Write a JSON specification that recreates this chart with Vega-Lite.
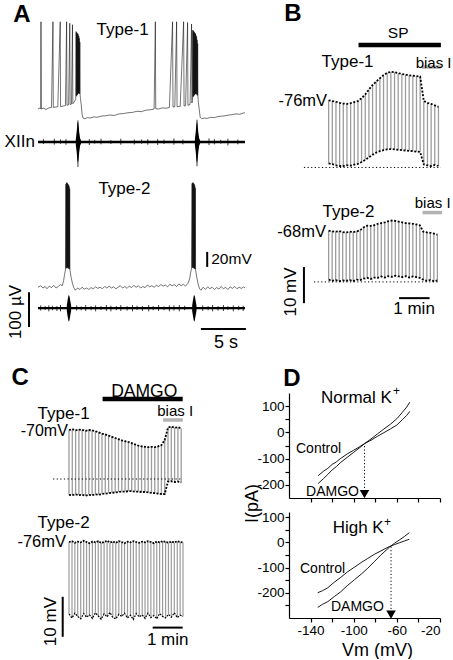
{
"$schema":"https://vega.github.io/schema/vega-lite/v6.json",
"padding":{"left":4,"top":2,"right":0,"bottom":0},
"config":{"view":{"stroke":null},"font":"Liberation Sans","mark":{"color":"black"},
"axis":{"domainColor":"black","tickColor":"black","labelColor":"black","titleColor":"black","labelFontSize":13.5,"titleFontSize":18,"titleFontWeight":"normal","grid":false,"domainWidth":1.2,"tickWidth":1.2,"labelPadding":1}},
"datasets":{
"t1":[{"t":0,"v":-61},{"t":0.15,"v":-60},{"t":0.3,"v":-60.5},{"t":0.33,"v":55},{"t":0.37,"v":-61},{"t":0.6,"v":-60},{"t":0.9,"v":-61.5},{"t":1.2,"v":-59.5},{"t":1.5,"v":-59},{"t":1.66,"v":55},{"t":1.7,"v":-59},{"t":1.9,"v":-58.5},{"t":2.2,"v":-58},{"t":2.47,"v":55},{"t":2.51,"v":-58},{"t":2.8,"v":-57},{"t":3.05,"v":-56.5},{"t":3.18,"v":55},{"t":3.22,"v":-56},{"t":3.4,"v":-55.5},{"t":3.53,"v":53},{"t":3.57,"v":-55},{"t":3.72,"v":-54.5},{"t":3.83,"v":51},{"t":3.87,"v":-54},{"t":4.0,"v":-52},{"t":4.2,"v":-48},{"t":4.23,"v":42},{"t":4.26,"v":-44},{"t":4.29,"v":41},{"t":4.32,"v":-43},{"t":4.35,"v":40},{"t":4.38,"v":-42},{"t":4.41,"v":39},{"t":4.44,"v":-41},{"t":4.47,"v":38},{"t":4.5,"v":-40},{"t":4.53,"v":36},{"t":4.56,"v":-40},{"t":4.59,"v":33},{"t":4.62,"v":-41},{"t":4.65,"v":28},{"t":4.68,"v":-42},{"t":4.72,"v":-47},{"t":4.8,"v":-55},{"t":4.9,"v":-68},{"t":5.0,"v":-73},{"t":5.2,"v":-74},{"t":5.5,"v":-72.5},{"t":5.8,"v":-73},{"t":6.2,"v":-71.5},{"t":6.6,"v":-72},{"t":7.0,"v":-70.5},{"t":7.5,"v":-70},{"t":8.0,"v":-69},{"t":8.5,"v":-69.5},{"t":9.0,"v":-67.5},{"t":9.5,"v":-67},{"t":10.0,"v":-66},{"t":10.5,"v":-65.5},{"t":11.0,"v":-64},{"t":11.5,"v":-64.5},{"t":12.0,"v":-62.5},{"t":12.5,"v":-62},{"t":12.9,"v":-61},{"t":13.04,"v":55},{"t":13.08,"v":-60.5},{"t":13.4,"v":-61},{"t":13.8,"v":-59.5},{"t":14.2,"v":-60},{"t":14.6,"v":-59},{"t":14.95,"v":55},{"t":15.0,"v":-58.5},{"t":15.2,"v":-58},{"t":15.4,"v":55},{"t":15.45,"v":-58},{"t":15.8,"v":-57.5},{"t":16.18,"v":55},{"t":16.23,"v":-57},{"t":16.4,"v":-56.5},{"t":16.62,"v":54},{"t":16.66,"v":-56},{"t":16.9,"v":-55},{"t":17.06,"v":52},{"t":17.1,"v":-53},{"t":17.15,"v":-50},{"t":17.2,"v":44},{"t":17.23,"v":-45},{"t":17.26,"v":43},{"t":17.29,"v":-44},{"t":17.32,"v":42},{"t":17.35,"v":-43},{"t":17.38,"v":41},{"t":17.41,"v":-42},{"t":17.44,"v":40},{"t":17.47,"v":-41},{"t":17.5,"v":39},{"t":17.53,"v":-41},{"t":17.56,"v":37},{"t":17.59,"v":-41},{"t":17.62,"v":35},{"t":17.65,"v":-42},{"t":17.68,"v":31},{"t":17.71,"v":-43},{"t":17.74,"v":26},{"t":17.77,"v":-45},{"t":17.82,"v":-52},{"t":17.92,"v":-62},{"t":18.02,"v":-72},{"t":18.2,"v":-74},{"t":18.5,"v":-73},{"t":18.8,"v":-73.5},{"t":19.2,"v":-72},{"t":19.6,"v":-72.5},{"t":20.0,"v":-71},{"t":20.4,"v":-70.5},{"t":20.8,"v":-70},{"t":21.2,"v":-69},{"t":21.6,"v":-68.5},{"t":22.0,"v":-67.5},{"t":22.4,"v":-68},{"t":22.8,"v":-66.5},{"t":23.0,"v":-66}],
"t2":[{"t":0,"v":-59},{"t":0.3,"v":-57},{"t":0.55,"v":-60},{"t":0.8,"v":-58},{"t":1.0,"v":-61},{"t":1.25,"v":-57.5},{"t":1.5,"v":-59.5},{"t":1.75,"v":-56.5},{"t":2.0,"v":-60},{"t":2.25,"v":-58},{"t":2.5,"v":-55.5},{"t":2.7,"v":-57},{"t":2.85,"v":-50},{"t":2.95,"v":-42},{"t":3.05,"v":-36},{"t":3.1,"v":78},{"t":3.13,"v":-34},{"t":3.16,"v":80},{"t":3.19,"v":-33},{"t":3.22,"v":80},{"t":3.25,"v":-33},{"t":3.28,"v":79},{"t":3.31,"v":-33},{"t":3.34,"v":78},{"t":3.37,"v":-34},{"t":3.4,"v":77},{"t":3.43,"v":-34},{"t":3.46,"v":75},{"t":3.49,"v":-35},{"t":3.52,"v":72},{"t":3.55,"v":-36},{"t":3.6,"v":-40},{"t":3.7,"v":-47},{"t":3.85,"v":-55},{"t":4.0,"v":-60},{"t":4.15,"v":-63},{"t":4.4,"v":-60},{"t":4.65,"v":-62},{"t":4.9,"v":-59},{"t":5.15,"v":-61.5},{"t":5.4,"v":-60},{"t":5.65,"v":-62},{"t":5.9,"v":-59.5},{"t":6.15,"v":-61},{"t":6.4,"v":-58.5},{"t":6.65,"v":-60.5},{"t":6.9,"v":-59},{"t":7.15,"v":-61},{"t":7.4,"v":-58},{"t":7.65,"v":-60},{"t":7.9,"v":-57.5},{"t":8.15,"v":-60},{"t":8.4,"v":-58.5},{"t":8.65,"v":-61},{"t":8.9,"v":-59},{"t":9.15,"v":-57},{"t":9.4,"v":-60},{"t":9.65,"v":-58},{"t":9.9,"v":-60.5},{"t":10.15,"v":-57.5},{"t":10.4,"v":-59.5},{"t":10.65,"v":-56.5},{"t":10.9,"v":-59},{"t":11.15,"v":-57},{"t":11.4,"v":-60},{"t":11.65,"v":-58},{"t":11.9,"v":-59.5},{"t":12.15,"v":-56},{"t":12.4,"v":-58.5},{"t":12.65,"v":-57},{"t":12.9,"v":-59},{"t":13.15,"v":-56.5},{"t":13.4,"v":-58},{"t":13.65,"v":-55.5},{"t":13.9,"v":-57.5},{"t":14.15,"v":-56},{"t":14.4,"v":-58.5},{"t":14.65,"v":-55},{"t":14.9,"v":-57},{"t":15.15,"v":-55.5},{"t":15.4,"v":-58},{"t":15.65,"v":-54.5},{"t":15.9,"v":-57},{"t":16.15,"v":-55},{"t":16.4,"v":-57.5},{"t":16.65,"v":-54},{"t":16.85,"v":-48},{"t":16.95,"v":-40},{"t":17.05,"v":-35},{"t":17.12,"v":79},{"t":17.15,"v":-33},{"t":17.18,"v":80},{"t":17.21,"v":-33},{"t":17.24,"v":80},{"t":17.27,"v":-33},{"t":17.3,"v":79},{"t":17.33,"v":-34},{"t":17.36,"v":78},{"t":17.39,"v":-34},{"t":17.42,"v":76},{"t":17.45,"v":-35},{"t":17.48,"v":73},{"t":17.51,"v":-36},{"t":17.56,"v":-40},{"t":17.66,"v":-47},{"t":17.8,"v":-55},{"t":17.95,"v":-61},{"t":18.1,"v":-63},{"t":18.35,"v":-59},{"t":18.6,"v":-62},{"t":18.85,"v":-58.5},{"t":19.1,"v":-61},{"t":19.35,"v":-59},{"t":19.6,"v":-62},{"t":19.85,"v":-59.5},{"t":20.1,"v":-61.5},{"t":20.35,"v":-58},{"t":20.6,"v":-61},{"t":20.85,"v":-59},{"t":21.1,"v":-62},{"t":21.35,"v":-58.5},{"t":21.6,"v":-60.5},{"t":21.85,"v":-58},{"t":22.1,"v":-61},{"t":22.35,"v":-59},{"t":22.6,"v":-60.5},{"t":22.85,"v":-58.5},{"t":23.0,"v":-60}],
"x1n":[{"t":0.6,"lo":-6,"hi":8},{"t":1.81,"lo":-8,"hi":9},{"t":2.5,"lo":-5,"hi":7},{"t":3.11,"lo":-8,"hi":8},{"t":4.44,"lo":-72,"hi":62},{"t":5.7,"lo":-9,"hi":8},{"t":6.3,"lo":-5,"hi":6},{"t":7.0,"lo":-7,"hi":9},{"t":8.1,"lo":-6,"hi":5},{"t":9.2,"lo":-8,"hi":9},{"t":10.7,"lo":-7,"hi":7},{"t":11.5,"lo":-5,"hi":7},{"t":12.2,"lo":-8,"hi":8},{"t":13.3,"lo":-9,"hi":8},{"t":14.0,"lo":-6,"hi":7},{"t":15.1,"lo":-8,"hi":10},{"t":16.1,"lo":-7,"hi":7},{"t":17.67,"lo":-70,"hi":64},{"t":19.0,"lo":-9,"hi":10},{"t":19.6,"lo":-7,"hi":8},{"t":20.3,"lo":-5,"hi":6},{"t":21.1,"lo":-10,"hi":9},{"t":22.2,"lo":-7,"hi":7}],
"x1b":[{"g":1,"t":4.2,"lo":-8,"hi":8},{"g":1,"t":4.3,"lo":-30,"hi":30},{"g":1,"t":4.38,"lo":-55,"hi":54},{"g":1,"t":4.44,"lo":-60,"hi":58},{"g":1,"t":4.5,"lo":-52,"hi":50},{"g":1,"t":4.58,"lo":-30,"hi":28},{"g":1,"t":4.68,"lo":-10,"hi":10},{"g":1,"t":4.78,"lo":-5,"hi":5},{"g":2,"t":17.43,"lo":-8,"hi":8},{"g":2,"t":17.53,"lo":-30,"hi":30},{"g":2,"t":17.61,"lo":-55,"hi":54},{"g":2,"t":17.67,"lo":-60,"hi":58},{"g":2,"t":17.73,"lo":-52,"hi":50},{"g":2,"t":17.81,"lo":-30,"hi":28},{"g":2,"t":17.91,"lo":-10,"hi":10},{"g":2,"t":18.01,"lo":-5,"hi":5}],
"x2n":[{"t":0.3,"lo":-7,"hi":8},{"t":0.8,"lo":-5,"hi":6},{"t":1.2,"lo":-9,"hi":8},{"t":1.6,"lo":-6,"hi":7},{"t":2.1,"lo":-8,"hi":6},{"t":2.5,"lo":-9,"hi":9},{"t":4.3,"lo":-7,"hi":8},{"t":4.8,"lo":-6,"hi":5},{"t":5.3,"lo":-8,"hi":9},{"t":5.9,"lo":-6,"hi":6},{"t":6.4,"lo":-9,"hi":8},{"t":7.0,"lo":-5,"hi":6},{"t":7.6,"lo":-8,"hi":9},{"t":8.1,"lo":-9,"hi":7},{"t":8.7,"lo":-6,"hi":6},{"t":9.2,"lo":-8,"hi":9},{"t":9.9,"lo":-7,"hi":6},{"t":10.5,"lo":-9,"hi":9},{"t":11.0,"lo":-5,"hi":7},{"t":11.6,"lo":-8,"hi":6},{"t":12.3,"lo":-9,"hi":9},{"t":12.8,"lo":-6,"hi":6},{"t":13.4,"lo":-8,"hi":9},{"t":14.0,"lo":-6,"hi":5},{"t":14.6,"lo":-9,"hi":8},{"t":15.1,"lo":-7,"hi":8},{"t":15.7,"lo":-9,"hi":9},{"t":16.3,"lo":-6,"hi":7},{"t":18.3,"lo":-8,"hi":8},{"t":18.9,"lo":-6,"hi":6},{"t":19.4,"lo":-9,"hi":9},{"t":20.0,"lo":-7,"hi":6},{"t":20.6,"lo":-8,"hi":9},{"t":21.1,"lo":-5,"hi":6},{"t":21.7,"lo":-9,"hi":8},{"t":22.3,"lo":-6,"hi":7},{"t":22.8,"lo":-8,"hi":7}],
"x2b":[{"g":1,"t":3.2,"lo":-8,"hi":8},{"g":1,"t":3.3,"lo":-25,"hi":25},{"g":1,"t":3.38,"lo":-36,"hi":36},{"g":1,"t":3.44,"lo":-39,"hi":38},{"g":1,"t":3.5,"lo":-34,"hi":34},{"g":1,"t":3.58,"lo":-22,"hi":22},{"g":1,"t":3.68,"lo":-8,"hi":8},{"g":2,"t":17.13,"lo":-8,"hi":8},{"g":2,"t":17.23,"lo":-25,"hi":25},{"g":2,"t":17.31,"lo":-36,"hi":36},{"g":2,"t":17.37,"lo":-39,"hi":38},{"g":2,"t":17.43,"lo":-34,"hi":34},{"g":2,"t":17.51,"lo":-22,"hi":22},{"g":2,"t":17.61,"lo":-8,"hi":8}],
"b1":[{"t":0.02,"top":-75.8,"bot":-93.3},{"t":0.14,"top":-76.0,"bot":-93.5},{"t":0.26,"top":-76.2,"bot":-93.8},{"t":0.38,"top":-76.5,"bot":-94.0},{"t":0.5,"top":-76.7,"bot":-94.0},{"t":0.62,"top":-76.8,"bot":-93.8},{"t":0.74,"top":-76.6,"bot":-93.9},{"t":0.86,"top":-76.3,"bot":-93.6},{"t":0.98,"top":-76.0,"bot":-93.4},{"t":1.1,"top":-75.2,"bot":-92.9},{"t":1.22,"top":-74.2,"bot":-92.3},{"t":1.34,"top":-72.8,"bot":-91.6},{"t":1.46,"top":-71.6,"bot":-90.9},{"t":1.58,"top":-70.6,"bot":-90.3},{"t":1.7,"top":-69.7,"bot":-89.9},{"t":1.82,"top":-68.8,"bot":-89.6},{"t":1.94,"top":-68.2,"bot":-89.4},{"t":2.06,"top":-67.9,"bot":-89.3},{"t":2.18,"top":-68.0,"bot":-89.4},{"t":2.3,"top":-68.3,"bot":-89.5},{"t":2.42,"top":-68.5,"bot":-89.6},{"t":2.54,"top":-68.7,"bot":-89.7},{"t":2.66,"top":-68.9,"bot":-89.8},{"t":2.78,"top":-69.0,"bot":-89.9},{"t":2.9,"top":-69.1,"bot":-90.0},{"t":3.02,"top":-69.2,"bot":-90.1},{"t":3.14,"top":-76.0,"bot":-93.6},{"t":3.26,"top":-76.5,"bot":-93.8},{"t":3.38,"top":-76.8,"bot":-94.0},{"t":3.5,"top":-77.2,"bot":-93.7},{"t":3.62,"top":-77.6,"bot":-94.0}],
"b2":[{"t":0.02,"top":-67.9,"bot":-81.5},{"t":0.135,"top":-68.1,"bot":-81.8},{"t":0.25,"top":-68.2,"bot":-81.6},{"t":0.365,"top":-68.0,"bot":-81.9},{"t":0.48,"top":-68.3,"bot":-81.7},{"t":0.595,"top":-68.4,"bot":-81.8},{"t":0.71,"top":-68.2,"bot":-81.6},{"t":0.825,"top":-68.3,"bot":-81.9},{"t":0.94,"top":-68.1,"bot":-81.5},{"t":1.055,"top":-67.8,"bot":-81.6},{"t":1.17,"top":-67.0,"bot":-81.2},{"t":1.285,"top":-66.5,"bot":-81.0},{"t":1.4,"top":-66.6,"bot":-81.3},{"t":1.515,"top":-66.4,"bot":-80.9},{"t":1.63,"top":-66.0,"bot":-81.0},{"t":1.745,"top":-65.8,"bot":-80.6},{"t":1.86,"top":-65.6,"bot":-80.9},{"t":1.975,"top":-65.3,"bot":-80.5},{"t":2.09,"top":-65.1,"bot":-80.7},{"t":2.205,"top":-65.2,"bot":-80.4},{"t":2.32,"top":-65.4,"bot":-80.6},{"t":2.435,"top":-65.6,"bot":-80.8},{"t":2.55,"top":-65.8,"bot":-80.5},{"t":2.665,"top":-65.9,"bot":-80.9},{"t":2.78,"top":-66.0,"bot":-80.6},{"t":2.895,"top":-66.2,"bot":-80.8},{"t":3.01,"top":-66.4,"bot":-81.0},{"t":3.125,"top":-68.2,"bot":-81.5},{"t":3.24,"top":-68.4,"bot":-81.8},{"t":3.355,"top":-68.5,"bot":-81.6},{"t":3.47,"top":-68.7,"bot":-81.9},{"t":3.585,"top":-69.0,"bot":-81.7}],
"c1":[{"t":0.0,"top":-70.0,"bot":-86.2},{"t":0.11,"top":-69.8,"bot":-86.3},{"t":0.22,"top":-70.1,"bot":-86.1},{"t":0.33,"top":-69.9,"bot":-86.3},{"t":0.44,"top":-70.0,"bot":-86.2},{"t":0.55,"top":-70.2,"bot":-86.4},{"t":0.66,"top":-70.0,"bot":-86.2},{"t":0.77,"top":-70.1,"bot":-86.3},{"t":0.88,"top":-70.3,"bot":-86.1},{"t":0.99,"top":-70.6,"bot":-86.2},{"t":1.1,"top":-70.9,"bot":-86.0},{"t":1.21,"top":-71.1,"bot":-85.9},{"t":1.32,"top":-71.4,"bot":-85.8},{"t":1.43,"top":-71.7,"bot":-85.7},{"t":1.54,"top":-72.0,"bot":-85.6},{"t":1.65,"top":-72.3,"bot":-85.5},{"t":1.76,"top":-72.6,"bot":-85.4},{"t":1.87,"top":-72.8,"bot":-85.4},{"t":1.98,"top":-73.0,"bot":-85.3},{"t":2.09,"top":-73.3,"bot":-85.3},{"t":2.2,"top":-73.6,"bot":-85.4},{"t":2.31,"top":-73.9,"bot":-85.4},{"t":2.42,"top":-74.1,"bot":-85.5},{"t":2.53,"top":-74.2,"bot":-85.5},{"t":2.64,"top":-74.3,"bot":-85.6},{"t":2.75,"top":-74.2,"bot":-85.7},{"t":2.86,"top":-74.3,"bot":-85.8},{"t":2.97,"top":-74.1,"bot":-85.9},{"t":3.08,"top":-73.8,"bot":-86.0},{"t":3.19,"top":-72.5,"bot":-86.0},{"t":3.3,"top":-69.4,"bot":-82.9},{"t":3.41,"top":-69.2,"bot":-82.8},{"t":3.52,"top":-69.4,"bot":-83.0},{"t":3.63,"top":-69.3,"bot":-82.9},{"t":3.74,"top":-69.6,"bot":-83.1}],
"c2":[{"t":0.0,"top":-76.0,"bot":-94.0},{"t":0.1,"top":-75.8,"bot":-95.0},{"t":0.195,"top":-76.2,"bot":-93.8},{"t":0.29,"top":-75.9,"bot":-94.6},{"t":0.39,"top":-76.1,"bot":-95.2},{"t":0.49,"top":-75.7,"bot":-93.9},{"t":0.585,"top":-76.0,"bot":-94.8},{"t":0.68,"top":-76.3,"bot":-94.2},{"t":0.78,"top":-75.9,"bot":-95.1},{"t":0.88,"top":-76.1,"bot":-93.7},{"t":0.975,"top":-75.8,"bot":-94.5},{"t":1.07,"top":-76.2,"bot":-95.3},{"t":1.17,"top":-76.0,"bot":-94.0},{"t":1.27,"top":-75.7,"bot":-94.7},{"t":1.365,"top":-76.1,"bot":-93.6},{"t":1.46,"top":-75.9,"bot":-94.9},{"t":1.56,"top":-76.2,"bot":-95.2},{"t":1.66,"top":-75.8,"bot":-94.1},{"t":1.755,"top":-76.0,"bot":-94.6},{"t":1.85,"top":-76.3,"bot":-93.8},{"t":1.95,"top":-75.9,"bot":-95.0},{"t":2.05,"top":-76.1,"bot":-94.3},{"t":2.145,"top":-75.8,"bot":-95.4},{"t":2.24,"top":-76.0,"bot":-93.9},{"t":2.34,"top":-76.2,"bot":-94.7},{"t":2.44,"top":-75.9,"bot":-94.2},{"t":2.535,"top":-76.1,"bot":-95.1},{"t":2.63,"top":-75.8,"bot":-93.8},{"t":2.73,"top":-76.0,"bot":-94.9},{"t":2.83,"top":-76.3,"bot":-94.4},{"t":2.925,"top":-75.9,"bot":-95.2},{"t":3.02,"top":-76.1,"bot":-93.9},{"t":3.12,"top":-75.8,"bot":-94.6},{"t":3.22,"top":-76.0,"bot":-95.0},{"t":3.315,"top":-76.2,"bot":-94.1},{"t":3.41,"top":-75.9,"bot":-94.8},{"t":3.51,"top":-76.1,"bot":-93.7},{"t":3.61,"top":-75.8,"bot":-94.9},{"t":3.705,"top":-76.0,"bot":-94.3},{"t":3.8,"top":-76.1,"bot":-94.6}],
"d1":[{"c":"Control","mv":-133,"pa":-165},{"c":"Control","mv":-128,"pa":-148},{"c":"Control","mv":-124,"pa":-137},{"c":"Control","mv":-120,"pa":-122},{"c":"Control","mv":-116,"pa":-112},{"c":"Control","mv":-112,"pa":-99},{"c":"Control","mv":-106,"pa":-82},{"c":"Control","mv":-100,"pa":-68},{"c":"Control","mv":-95,"pa":-56},{"c":"Control","mv":-90,"pa":-43},{"c":"Control","mv":-84,"pa":-30},{"c":"Control","mv":-78,"pa":-15},{"c":"Control","mv":-72,"pa":-1},{"c":"Control","mv":-66,"pa":13},{"c":"Control","mv":-60,"pa":28},{"c":"Control","mv":-55,"pa":48},{"c":"Control","mv":-51,"pa":64},{"c":"Control","mv":-48,"pa":80},
{"c":"DAMGO","mv":-133,"pa":-195},{"c":"DAMGO","mv":-128,"pa":-176},{"c":"DAMGO","mv":-124,"pa":-160},{"c":"DAMGO","mv":-120,"pa":-143},{"c":"DAMGO","mv":-116,"pa":-130},{"c":"DAMGO","mv":-112,"pa":-114},{"c":"DAMGO","mv":-106,"pa":-95},{"c":"DAMGO","mv":-100,"pa":-76},{"c":"DAMGO","mv":-95,"pa":-60},{"c":"DAMGO","mv":-90,"pa":-43},{"c":"DAMGO","mv":-84,"pa":-25},{"c":"DAMGO","mv":-78,"pa":-6},{"c":"DAMGO","mv":-72,"pa":13},{"c":"DAMGO","mv":-66,"pa":31},{"c":"DAMGO","mv":-60,"pa":52},{"c":"DAMGO","mv":-55,"pa":76},{"c":"DAMGO","mv":-51,"pa":96},{"c":"DAMGO","mv":-48,"pa":115}],
"d2":[{"c":"Control","mv":-133.4,"pa":-200},{"c":"Control","mv":-129,"pa":-192},{"c":"Control","mv":-124,"pa":-180},{"c":"Control","mv":-118,"pa":-158},{"c":"Control","mv":-112,"pa":-139},{"c":"Control","mv":-106,"pa":-118},{"c":"Control","mv":-99.5,"pa":-99},{"c":"Control","mv":-93,"pa":-80},{"c":"Control","mv":-87,"pa":-64},{"c":"Control","mv":-81,"pa":-48},{"c":"Control","mv":-74.7,"pa":-34},{"c":"Control","mv":-67,"pa":-17},{"c":"Control","mv":-62,"pa":-9},{"c":"Control","mv":-57.7,"pa":-2},{"c":"Control","mv":-53,"pa":5},{"c":"Control","mv":-48.5,"pa":12},
{"c":"DAMGO","mv":-133.4,"pa":-258},{"c":"DAMGO","mv":-129,"pa":-246},{"c":"DAMGO","mv":-124,"pa":-235},{"c":"DAMGO","mv":-118,"pa":-215},{"c":"DAMGO","mv":-112,"pa":-196},{"c":"DAMGO","mv":-106,"pa":-172},{"c":"DAMGO","mv":-99.5,"pa":-149},{"c":"DAMGO","mv":-93,"pa":-126},{"c":"DAMGO","mv":-87,"pa":-103},{"c":"DAMGO","mv":-81,"pa":-77},{"c":"DAMGO","mv":-74.7,"pa":-50},{"c":"DAMGO","mv":-67,"pa":-20},{"c":"DAMGO","mv":-62,"pa":-3},{"c":"DAMGO","mv":-57.7,"pa":9},{"c":"DAMGO","mv":-53,"pa":23},{"c":"DAMGO","mv":-48.5,"pa":38}]
},
"columns":2,
"spacing":{"row":14,"column":44},
"bounds":"flush",
"concat":[
{"width":207,"height":361,"resolve":{"scale":{"y":"independent"}},"layer":[
 {"layer":[
  {"data":{"name":"t1"},"mark":{"type":"line","strokeWidth":0.55,"color":"black"},"encoding":{"x":{"field":"t","type":"quantitative","scale":{"domain":[0,23],"nice":false,"zero":false},"axis":null},"y":{"field":"v","type":"quantitative","scale":{"domain":[-420,60],"nice":false,"zero":false},"axis":null}}},
  {"data":{"values":[{"t":-1.8,"v":64,"s":"A"}]},"mark":{"type":"text","fontSize":24,"fontWeight":"bold"},"encoding":{"x":{"field":"t","type":"quantitative","scale":{"domain":[0,23],"nice":false,"zero":false},"axis":null},"y":{"field":"v","type":"quantitative","scale":{"domain":[-420,60],"nice":false,"zero":false},"axis":null},"text":{"field":"s"}}},
  {"data":{"values":[{"t":9.4,"v":44,"s":"Type-1"}]},"mark":{"type":"text","fontSize":17},"encoding":{"x":{"field":"t","type":"quantitative","scale":{"domain":[0,23],"nice":false,"zero":false},"axis":null},"y":{"field":"v","type":"quantitative","scale":{"domain":[-420,60],"nice":false,"zero":false},"axis":null},"text":{"field":"s"}}}
 ]},
 {"layer":[
  {"data":{"values":[{"t":0,"t2":23,"v":0}]},"mark":{"type":"rule","strokeWidth":2.5},"encoding":{"x":{"field":"t","type":"quantitative","scale":{"domain":[0,23],"nice":false,"zero":false},"axis":null},"x2":{"field":"t2"},"y":{"field":"v","type":"quantitative","scale":{"domain":[-683,357],"nice":false,"zero":false},"axis":null}}},
  {"data":{"name":"x1n"},"mark":{"type":"rule","strokeWidth":0.8},"encoding":{"x":{"field":"t","type":"quantitative","scale":{"domain":[0,23],"nice":false,"zero":false},"axis":null},"y":{"field":"lo","type":"quantitative","scale":{"domain":[-683,357],"nice":false,"zero":false},"axis":null},"y2":{"field":"hi"}}},
  {"data":{"name":"x1b"},"mark":{"type":"area"},"encoding":{"x":{"field":"t","type":"quantitative","scale":{"domain":[0,23],"nice":false,"zero":false},"axis":null},"y":{"field":"lo","type":"quantitative","scale":{"domain":[-683,357],"nice":false,"zero":false},"axis":null},"y2":{"field":"hi"},"detail":{"field":"g"}}},
  {"data":{"values":[{"t":-0.35,"v":0,"s":"XIIn"}]},"mark":{"type":"text","fontSize":17,"align":"right"},"encoding":{"x":{"field":"t","type":"quantitative","scale":{"domain":[0,23],"nice":false,"zero":false},"axis":null},"y":{"field":"v","type":"quantitative","scale":{"domain":[-683,357],"nice":false,"zero":false},"axis":null},"text":{"field":"s"}}}
 ]},
 {"layer":[
  {"data":{"name":"t2"},"mark":{"type":"line","strokeWidth":0.55,"color":"black"},"encoding":{"x":{"field":"t","type":"quantitative","scale":{"domain":[0,23],"nice":false,"zero":false},"axis":null},"y":{"field":"v","type":"quantitative","scale":{"domain":[-181,299],"nice":false,"zero":false},"axis":null}}},
  {"data":{"values":[{"t":9.6,"v":71,"s":"Type-2"}]},"mark":{"type":"text","fontSize":17},"encoding":{"x":{"field":"t","type":"quantitative","scale":{"domain":[0,23],"nice":false,"zero":false},"axis":null},"y":{"field":"v","type":"quantitative","scale":{"domain":[-181,299],"nice":false,"zero":false},"axis":null},"text":{"field":"s"}}},
  {"data":{"values":[{"t":18.8,"v":-32,"v2":-12}]},"mark":{"type":"rule","strokeWidth":2},"encoding":{"x":{"field":"t","type":"quantitative","scale":{"domain":[0,23],"nice":false,"zero":false},"axis":null},"y":{"field":"v","type":"quantitative","scale":{"domain":[-181,299],"nice":false,"zero":false},"axis":null},"y2":{"field":"v2"}}},
  {"data":{"values":[{"t":19.25,"v":-22,"s":"20mV"}]},"mark":{"type":"text","fontSize":15.5,"align":"left"},"encoding":{"x":{"field":"t","type":"quantitative","scale":{"domain":[0,23],"nice":false,"zero":false},"axis":null},"y":{"field":"v","type":"quantitative","scale":{"domain":[-181,299],"nice":false,"zero":false},"axis":null},"text":{"field":"s"}}}
 ]},
 {"layer":[
  {"data":{"values":[{"t":0,"t2":23,"v":0}]},"mark":{"type":"rule","strokeWidth":2.2},"encoding":{"x":{"field":"t","type":"quantitative","scale":{"domain":[0,23],"nice":false,"zero":false},"axis":null},"x2":{"field":"t2"},"y":{"field":"v","type":"quantitative","scale":{"domain":[-204,836],"nice":false,"zero":false},"axis":null}}},
  {"data":{"name":"x2n"},"mark":{"type":"rule","strokeWidth":0.8},"encoding":{"x":{"field":"t","type":"quantitative","scale":{"domain":[0,23],"nice":false,"zero":false},"axis":null},"y":{"field":"lo","type":"quantitative","scale":{"domain":[-204,836],"nice":false,"zero":false},"axis":null},"y2":{"field":"hi"}}},
  {"data":{"name":"x2b"},"mark":{"type":"area"},"encoding":{"x":{"field":"t","type":"quantitative","scale":{"domain":[0,23],"nice":false,"zero":false},"axis":null},"y":{"field":"lo","type":"quantitative","scale":{"domain":[-204,836],"nice":false,"zero":false},"axis":null},"y2":{"field":"hi"},"detail":{"field":"g"}}},
  {"data":{"values":[{"t":-1.0,"v":-54,"v2":46}]},"mark":{"type":"rule","strokeWidth":2},"encoding":{"x":{"field":"t","type":"quantitative","scale":{"domain":[0,23],"nice":false,"zero":false},"axis":null},"y":{"field":"v","type":"quantitative","scale":{"domain":[-204,836],"nice":false,"zero":false},"axis":null},"y2":{"field":"v2"}}},
  {"data":{"values":[{"t":-2.44,"v":-11,"s":"100 µV"}]},"mark":{"type":"text","fontSize":17,"angle":270},"encoding":{"x":{"field":"t","type":"quantitative","scale":{"domain":[0,23],"nice":false,"zero":false},"axis":null},"y":{"field":"v","type":"quantitative","scale":{"domain":[-204,836],"nice":false,"zero":false},"axis":null},"text":{"field":"s"}}},
  {"data":{"values":[{"t":18.1,"t2":23.1,"v":-60}]},"mark":{"type":"rule","strokeWidth":2},"encoding":{"x":{"field":"t","type":"quantitative","scale":{"domain":[0,23],"nice":false,"zero":false},"axis":null},"x2":{"field":"t2"},"y":{"field":"v","type":"quantitative","scale":{"domain":[-204,836],"nice":false,"zero":false},"axis":null}}},
  {"data":{"values":[{"t":20.9,"v":-100,"s":"5 s"}]},"mark":{"type":"text","fontSize":18},"encoding":{"x":{"field":"t","type":"quantitative","scale":{"domain":[0,23],"nice":false,"zero":false},"axis":null},"y":{"field":"v","type":"quantitative","scale":{"domain":[-204,836],"nice":false,"zero":false},"axis":null},"text":{"field":"s"}}}
 ]}
]},
{"width":151,"height":361,"resolve":{"scale":{"y":"independent"}},"layer":[
 {"layer":[
  {"data":{"name":"b1"},"mark":{"type":"rule","strokeWidth":1.3,"color":"#9c9c9c"},"encoding":{"x":{"field":"t","type":"quantitative","scale":{"domain":[-1.28,3.671],"nice":false,"zero":false},"axis":null},"y":{"field":"top","type":"quantitative","scale":{"domain":[-153,-53],"nice":false,"zero":false},"axis":null},"y2":{"field":"bot"}}},
  {"data":{"name":"b1"},"mark":{"type":"line","strokeWidth":1.8,"strokeDash":[2,1.6]},"encoding":{"x":{"field":"t","type":"quantitative","scale":{"domain":[-1.28,3.671],"nice":false,"zero":false},"axis":null},"y":{"field":"top","type":"quantitative","scale":{"domain":[-153,-53],"nice":false,"zero":false},"axis":null}}},
  {"data":{"name":"b1"},"mark":{"type":"line","strokeWidth":1.8,"strokeDash":[2,1.6]},"encoding":{"x":{"field":"t","type":"quantitative","scale":{"domain":[-1.28,3.671],"nice":false,"zero":false},"axis":null},"y":{"field":"bot","type":"quantitative","scale":{"domain":[-153,-53],"nice":false,"zero":false},"axis":null}}},
  {"data":{"values":[{"t":-0.79,"t2":3.7,"v":-94.4}]},"mark":{"type":"rule","strokeWidth":1,"strokeDash":[1.2,2.4]},"encoding":{"x":{"field":"t","type":"quantitative","scale":{"domain":[-1.28,3.671],"nice":false,"zero":false},"axis":null},"x2":{"field":"t2"},"y":{"field":"v","type":"quantitative","scale":{"domain":[-153,-53],"nice":false,"zero":false},"axis":null}}},
  {"data":{"values":[{"t":1.0,"t2":3.7,"v":-60.5}]},"mark":{"type":"rule","strokeWidth":4.5},"encoding":{"x":{"field":"t","type":"quantitative","scale":{"domain":[-1.28,3.671],"nice":false,"zero":false},"axis":null},"x2":{"field":"t2"},"y":{"field":"v","type":"quantitative","scale":{"domain":[-153,-53],"nice":false,"zero":false},"axis":null}}},
  {"data":{"values":[{"t":3.08,"t2":3.7,"v":-66.6}]},"mark":{"type":"rule","strokeWidth":3.5,"color":"#b3b3b3"},"encoding":{"x":{"field":"t","type":"quantitative","scale":{"domain":[-1.28,3.671],"nice":false,"zero":false},"axis":null},"x2":{"field":"t2"},"y":{"field":"v","type":"quantitative","scale":{"domain":[-153,-53],"nice":false,"zero":false},"axis":null}}},
  {"data":{"values":[{"t":-1.15,"v":-51.9,"s":"B"}]},"mark":{"type":"text","fontSize":24,"fontWeight":"bold"},"encoding":{"x":{"field":"t","type":"quantitative","scale":{"domain":[-1.28,3.671],"nice":false,"zero":false},"axis":null},"y":{"field":"v","type":"quantitative","scale":{"domain":[-153,-53],"nice":false,"zero":false},"axis":null},"text":{"field":"s"}}},
  {"data":{"values":[{"t":2.3,"v":-57.2,"s":"SP"}]},"mark":{"type":"text","fontSize":15.5},"encoding":{"x":{"field":"t","type":"quantitative","scale":{"domain":[-1.28,3.671],"nice":false,"zero":false},"axis":null},"y":{"field":"v","type":"quantitative","scale":{"domain":[-153,-53],"nice":false,"zero":false},"axis":null},"text":{"field":"s"}}},
  {"data":{"values":[{"t":3.46,"v":-65.5,"s":"bias I"}]},"mark":{"type":"text","fontSize":15},"encoding":{"x":{"field":"t","type":"quantitative","scale":{"domain":[-1.28,3.671],"nice":false,"zero":false},"axis":null},"y":{"field":"v","type":"quantitative","scale":{"domain":[-153,-53],"nice":false,"zero":false},"axis":null},"text":{"field":"s"}}},
  {"data":{"values":[{"t":0.64,"v":-65.2,"s":"Type-1"}]},"mark":{"type":"text","fontSize":17},"encoding":{"x":{"field":"t","type":"quantitative","scale":{"domain":[-1.28,3.671],"nice":false,"zero":false},"axis":null},"y":{"field":"v","type":"quantitative","scale":{"domain":[-153,-53],"nice":false,"zero":false},"axis":null},"text":{"field":"s"}}},
  {"data":{"values":[{"t":-0.03,"v":-75.9,"s":"-76mV"}]},"mark":{"type":"text","fontSize":16.5,"align":"right"},"encoding":{"x":{"field":"t","type":"quantitative","scale":{"domain":[-1.28,3.671],"nice":false,"zero":false},"axis":null},"y":{"field":"v","type":"quantitative","scale":{"domain":[-153,-53],"nice":false,"zero":false},"axis":null},"text":{"field":"s"}}}
 ]},
 {"layer":[
  {"data":{"name":"b2"},"mark":{"type":"rule","strokeWidth":1.3,"color":"#9c9c9c"},"encoding":{"x":{"field":"t","type":"quantitative","scale":{"domain":[-1.28,3.671],"nice":false,"zero":false},"axis":null},"y":{"field":"top","type":"quantitative","scale":{"domain":[-109,-9],"nice":false,"zero":false},"axis":null},"y2":{"field":"bot"}}},
  {"data":{"name":"b2"},"mark":{"type":"line","strokeWidth":1.8,"strokeDash":[2,1.6]},"encoding":{"x":{"field":"t","type":"quantitative","scale":{"domain":[-1.28,3.671],"nice":false,"zero":false},"axis":null},"y":{"field":"top","type":"quantitative","scale":{"domain":[-109,-9],"nice":false,"zero":false},"axis":null}}},
  {"data":{"name":"b2"},"mark":{"type":"line","strokeWidth":1.8,"strokeDash":[2,1.6]},"encoding":{"x":{"field":"t","type":"quantitative","scale":{"domain":[-1.28,3.671],"nice":false,"zero":false},"axis":null},"y":{"field":"bot","type":"quantitative","scale":{"domain":[-109,-9],"nice":false,"zero":false},"axis":null}}},
  {"data":{"values":[{"t":-0.46,"t2":3.65,"v":-82.1}]},"mark":{"type":"rule","strokeWidth":1,"strokeDash":[1.2,2.4]},"encoding":{"x":{"field":"t","type":"quantitative","scale":{"domain":[-1.28,3.671],"nice":false,"zero":false},"axis":null},"x2":{"field":"t2"},"y":{"field":"v","type":"quantitative","scale":{"domain":[-109,-9],"nice":false,"zero":false},"axis":null}}},
  {"data":{"values":[{"t":3.1,"t2":3.74,"v":-62.9}]},"mark":{"type":"rule","strokeWidth":3.5,"color":"#b3b3b3"},"encoding":{"x":{"field":"t","type":"quantitative","scale":{"domain":[-1.28,3.671],"nice":false,"zero":false},"axis":null},"x2":{"field":"t2"},"y":{"field":"v","type":"quantitative","scale":{"domain":[-109,-9],"nice":false,"zero":false},"axis":null}}},
  {"data":{"values":[{"t":-0.79,"v":-88,"v2":-78}]},"mark":{"type":"rule","strokeWidth":2},"encoding":{"x":{"field":"t","type":"quantitative","scale":{"domain":[-1.28,3.671],"nice":false,"zero":false},"axis":null},"y":{"field":"v","type":"quantitative","scale":{"domain":[-109,-9],"nice":false,"zero":false},"axis":null},"y2":{"field":"v2"}}},
  {"data":{"values":[{"t":2.33,"t2":3.33,"v":-86.6}]},"mark":{"type":"rule","strokeWidth":2},"encoding":{"x":{"field":"t","type":"quantitative","scale":{"domain":[-1.28,3.671],"nice":false,"zero":false},"axis":null},"x2":{"field":"t2"},"y":{"field":"v","type":"quantitative","scale":{"domain":[-109,-9],"nice":false,"zero":false},"axis":null}}},
  {"data":{"values":[{"t":0.67,"v":-62.7,"s":"Type-2"}]},"mark":{"type":"text","fontSize":17},"encoding":{"x":{"field":"t","type":"quantitative","scale":{"domain":[-1.28,3.671],"nice":false,"zero":false},"axis":null},"y":{"field":"v","type":"quantitative","scale":{"domain":[-109,-9],"nice":false,"zero":false},"axis":null},"text":{"field":"s"}}},
  {"data":{"values":[{"t":3.43,"v":-60.2,"s":"bias I"}]},"mark":{"type":"text","fontSize":15},"encoding":{"x":{"field":"t","type":"quantitative","scale":{"domain":[-1.28,3.671],"nice":false,"zero":false},"axis":null},"y":{"field":"v","type":"quantitative","scale":{"domain":[-109,-9],"nice":false,"zero":false},"axis":null},"text":{"field":"s"}}},
  {"data":{"values":[{"t":-0.07,"v":-68.2,"s":"-68mV"}]},"mark":{"type":"text","fontSize":16.5,"align":"right"},"encoding":{"x":{"field":"t","type":"quantitative","scale":{"domain":[-1.28,3.671],"nice":false,"zero":false},"axis":null},"y":{"field":"v","type":"quantitative","scale":{"domain":[-109,-9],"nice":false,"zero":false},"axis":null},"text":{"field":"s"}}},
  {"data":{"values":[{"t":-1.21,"v":-84.9,"s":"10 mV"}]},"mark":{"type":"text","fontSize":17,"angle":270},"encoding":{"x":{"field":"t","type":"quantitative","scale":{"domain":[-1.28,3.671],"nice":false,"zero":false},"axis":null},"y":{"field":"v","type":"quantitative","scale":{"domain":[-109,-9],"nice":false,"zero":false},"axis":null},"text":{"field":"s"}}},
  {"data":{"values":[{"t":2.82,"v":-89.6,"s":"1 min"}]},"mark":{"type":"text","fontSize":17},"encoding":{"x":{"field":"t","type":"quantitative","scale":{"domain":[-1.28,3.671],"nice":false,"zero":false},"axis":null},"y":{"field":"v","type":"quantitative","scale":{"domain":[-109,-9],"nice":false,"zero":false},"axis":null},"text":{"field":"s"}}}
 ]}
]},
{"width":207,"height":105,"layer":[
  {"data":{"name":"c1"},"mark":{"type":"rule","strokeWidth":1.3,"color":"#9c9c9c"},"encoding":{"x":{"field":"t","type":"quantitative","scale":{"domain":[-1.0333,5.8667],"nice":false,"zero":false},"axis":null},"y":{"field":"top","type":"quantitative","scale":{"domain":[-87,-60.75],"nice":false,"zero":false},"axis":null},"y2":{"field":"bot"}}},
  {"data":{"name":"c1"},"mark":{"type":"line","strokeWidth":1.8,"strokeDash":[2,1.4]},"encoding":{"x":{"field":"t","type":"quantitative","scale":{"domain":[-1.0333,5.8667],"nice":false,"zero":false},"axis":null},"y":{"field":"top","type":"quantitative","scale":{"domain":[-87,-60.75],"nice":false,"zero":false},"axis":null}}},
  {"data":{"name":"c1"},"mark":{"type":"line","strokeWidth":1.8,"strokeDash":[2,1.4]},"encoding":{"x":{"field":"t","type":"quantitative","scale":{"domain":[-1.0333,5.8667],"nice":false,"zero":false},"axis":null},"y":{"field":"bot","type":"quantitative","scale":{"domain":[-87,-60.75],"nice":false,"zero":false},"axis":null}}},
  {"data":{"values":[{"t":-0.53,"t2":3.79,"v":-82.25}]},"mark":{"type":"rule","strokeWidth":1,"strokeDash":[1.2,2.4]},"encoding":{"x":{"field":"t","type":"quantitative","scale":{"domain":[-1.0333,5.8667],"nice":false,"zero":false},"axis":null},"x2":{"field":"t2"},"y":{"field":"v","type":"quantitative","scale":{"domain":[-87,-60.75],"nice":false,"zero":false},"axis":null}}},
  {"data":{"values":[{"t":1.12,"t2":3.79,"v":-62.25}]},"mark":{"type":"rule","strokeWidth":4.5},"encoding":{"x":{"field":"t","type":"quantitative","scale":{"domain":[-1.0333,5.8667],"nice":false,"zero":false},"axis":null},"x2":{"field":"t2"},"y":{"field":"v","type":"quantitative","scale":{"domain":[-87,-60.75],"nice":false,"zero":false},"axis":null}}},
  {"data":{"values":[{"t":3.14,"t2":3.79,"v":-67.5}]},"mark":{"type":"rule","strokeWidth":3.5,"color":"#b3b3b3"},"encoding":{"x":{"field":"t","type":"quantitative","scale":{"domain":[-1.0333,5.8667],"nice":false,"zero":false},"axis":null},"x2":{"field":"t2"},"y":{"field":"v","type":"quantitative","scale":{"domain":[-87,-60.75],"nice":false,"zero":false},"axis":null}}},
  {"data":{"values":[{"t":-1.63,"v":-57.1,"s":"C"}]},"mark":{"type":"text","fontSize":24,"fontWeight":"bold"},"encoding":{"x":{"field":"t","type":"quantitative","scale":{"domain":[-1.0333,5.8667],"nice":false,"zero":false},"axis":null},"y":{"field":"v","type":"quantitative","scale":{"domain":[-87,-60.75],"nice":false,"zero":false},"axis":null},"text":{"field":"s"}}},
  {"data":{"values":[{"t":2.51,"v":-60.5,"s":"DAMGO"}]},"mark":{"type":"text","fontSize":17.5},"encoding":{"x":{"field":"t","type":"quantitative","scale":{"domain":[-1.0333,5.8667],"nice":false,"zero":false},"axis":null},"y":{"field":"v","type":"quantitative","scale":{"domain":[-87,-60.75],"nice":false,"zero":false},"axis":null},"text":{"field":"s"}}},
  {"data":{"values":[{"t":3.54,"v":-65.25,"s":"bias I"}]},"mark":{"type":"text","fontSize":15},"encoding":{"x":{"field":"t","type":"quantitative","scale":{"domain":[-1.0333,5.8667],"nice":false,"zero":false},"axis":null},"y":{"field":"v","type":"quantitative","scale":{"domain":[-87,-60.75],"nice":false,"zero":false},"axis":null},"text":{"field":"s"}}},
  {"data":{"values":[{"t":-0.18,"v":-65.9,"s":"Type-1"}]},"mark":{"type":"text","fontSize":17},"encoding":{"x":{"field":"t","type":"quantitative","scale":{"domain":[-1.0333,5.8667],"nice":false,"zero":false},"axis":null},"y":{"field":"v","type":"quantitative","scale":{"domain":[-87,-60.75],"nice":false,"zero":false},"axis":null},"text":{"field":"s"}}},
  {"data":{"values":[{"t":-0.04,"v":-70.3,"s":"-70mV"}]},"mark":{"type":"text","fontSize":16,"align":"right"},"encoding":{"x":{"field":"t","type":"quantitative","scale":{"domain":[-1.0333,5.8667],"nice":false,"zero":false},"axis":null},"y":{"field":"v","type":"quantitative","scale":{"domain":[-87,-60.75],"nice":false,"zero":false},"axis":null},"text":{"field":"s"}}}
]},
{"width":151,"height":105,"layer":[
  {"data":{"name":"d1"},"mark":{"type":"line","strokeWidth":0.9},"encoding":{"x":{"field":"mv","type":"quantitative","scale":{"domain":[-160,-20],"nice":false,"zero":false},"axis":{"values":[-140,-120,-100,-80,-60,-40,-20],"labels":false,"title":null,"tickSize":4}},"y":{"field":"pa","type":"quantitative","scale":{"domain":[-250,150],"nice":false,"zero":false},"axis":{"values":[-200,-150,-100,-50,0,50,100],"labelExpr":"datum.value % 100 === 0 ? '' + datum.value : ''","title":null,"tickSize":4}},"detail":{"field":"c"}}},
  {"data":{"values":[{"mv":-90,"pa":-225,"pa2":-43}]},"mark":{"type":"rule","strokeWidth":1,"strokeDash":[1.2,2.2]},"encoding":{"x":{"field":"mv","type":"quantitative","scale":{"domain":[-160,-20],"nice":false,"zero":false},"axis":{"values":[-140,-120,-100,-80,-60,-40,-20],"labels":false,"title":null,"tickSize":4}},"y":{"field":"pa","type":"quantitative","scale":{"domain":[-250,150],"nice":false,"zero":false},"axis":{"values":[-200,-150,-100,-50,0,50,100],"labelExpr":"datum.value % 100 === 0 ? '' + datum.value : ''","title":null,"tickSize":4}},"y2":{"field":"pa2"}}},
  {"data":{"values":[{"mv":-90,"pa":-235}]},"mark":{"type":"point","shape":"triangle-down","filled":true,"size":90,"opacity":1},"encoding":{"x":{"field":"mv","type":"quantitative","scale":{"domain":[-160,-20],"nice":false,"zero":false},"axis":{"values":[-140,-120,-100,-80,-60,-40,-20],"labels":false,"title":null,"tickSize":4}},"y":{"field":"pa","type":"quantitative","scale":{"domain":[-250,150],"nice":false,"zero":false},"axis":{"values":[-200,-150,-100,-50,0,50,100],"labelExpr":"datum.value % 100 === 0 ? '' + datum.value : ''","title":null,"tickSize":4}}}},
  {"data":{"values":[{"mv":-157.2,"pa":202,"s":"D"}]},"mark":{"type":"text","fontSize":24,"fontWeight":"bold"},"encoding":{"x":{"field":"mv","type":"quantitative","scale":{"domain":[-160,-20],"nice":false,"zero":false},"axis":{"values":[-140,-120,-100,-80,-60,-40,-20],"labels":false,"title":null,"tickSize":4}},"y":{"field":"pa","type":"quantitative","scale":{"domain":[-250,150],"nice":false,"zero":false},"axis":{"values":[-200,-150,-100,-50,0,50,100],"labelExpr":"datum.value % 100 === 0 ? '' + datum.value : ''","title":null,"tickSize":4}},"text":{"field":"s"}}},
  {"data":{"values":[{"mv":-130.3,"pa":129.4,"s":"Normal K"}]},"mark":{"type":"text","fontSize":17,"align":"left"},"encoding":{"x":{"field":"mv","type":"quantitative","scale":{"domain":[-160,-20],"nice":false,"zero":false},"axis":{"values":[-140,-120,-100,-80,-60,-40,-20],"labels":false,"title":null,"tickSize":4}},"y":{"field":"pa","type":"quantitative","scale":{"domain":[-250,150],"nice":false,"zero":false},"axis":{"values":[-200,-150,-100,-50,0,50,100],"labelExpr":"datum.value % 100 === 0 ? '' + datum.value : ''","title":null,"tickSize":4}},"text":{"field":"s"}}},
  {"data":{"values":[{"mv":-63.6,"pa":156,"s":"+"}]},"mark":{"type":"text","fontSize":12,"align":"left"},"encoding":{"x":{"field":"mv","type":"quantitative","scale":{"domain":[-160,-20],"nice":false,"zero":false},"axis":{"values":[-140,-120,-100,-80,-60,-40,-20],"labels":false,"title":null,"tickSize":4}},"y":{"field":"pa","type":"quantitative","scale":{"domain":[-250,150],"nice":false,"zero":false},"axis":{"values":[-200,-150,-100,-50,0,50,100],"labelExpr":"datum.value % 100 === 0 ? '' + datum.value : ''","title":null,"tickSize":4}},"text":{"field":"s"}}},
  {"data":{"values":[{"mv":-153.5,"pa":-62.3,"s":"Control"},{"mv":-144.2,"pa":-227.5,"s":"DAMGO"}]},"mark":{"type":"text","fontSize":14,"align":"left"},"encoding":{"x":{"field":"mv","type":"quantitative","scale":{"domain":[-160,-20],"nice":false,"zero":false},"axis":{"values":[-140,-120,-100,-80,-60,-40,-20],"labels":false,"title":null,"tickSize":4}},"y":{"field":"pa","type":"quantitative","scale":{"domain":[-250,150],"nice":false,"zero":false},"axis":{"values":[-200,-150,-100,-50,0,50,100],"labelExpr":"datum.value % 100 === 0 ? '' + datum.value : ''","title":null,"tickSize":4}},"text":{"field":"s"}}}
]},
{"width":207,"height":106,"layer":[
  {"data":{"name":"c2"},"mark":{"type":"rule","strokeWidth":1.2,"color":"#9c9c9c"},"encoding":{"x":{"field":"t","type":"quantitative","scale":{"domain":[-1.0333,5.8667],"nice":false,"zero":false},"axis":null},"y":{"field":"top","type":"quantitative","scale":{"domain":[-95,-68.5],"nice":false,"zero":false},"axis":null},"y2":{"field":"bot"}}},
  {"data":{"name":"c2"},"mark":{"type":"line","strokeWidth":1.8,"strokeDash":[1.8,1.2]},"encoding":{"x":{"field":"t","type":"quantitative","scale":{"domain":[-1.0333,5.8667],"nice":false,"zero":false},"axis":null},"y":{"field":"top","type":"quantitative","scale":{"domain":[-95,-68.5],"nice":false,"zero":false},"axis":null}}},
  {"data":{"name":"c2"},"mark":{"type":"line","strokeWidth":1.2,"strokeDash":[1.8,1.2]},"encoding":{"x":{"field":"t","type":"quantitative","scale":{"domain":[-1.0333,5.8667],"nice":false,"zero":false},"axis":null},"y":{"field":"bot","type":"quantitative","scale":{"domain":[-95,-68.5],"nice":false,"zero":false},"axis":null}}},
  {"data":{"values":[{"t":-0.21,"v":-99.7,"v2":-89.7}]},"mark":{"type":"rule","strokeWidth":2},"encoding":{"x":{"field":"t","type":"quantitative","scale":{"domain":[-1.0333,5.8667],"nice":false,"zero":false},"axis":null},"y":{"field":"v","type":"quantitative","scale":{"domain":[-95,-68.5],"nice":false,"zero":false},"axis":null},"y2":{"field":"v2"}}},
  {"data":{"values":[{"t":2.79,"t2":3.79,"v":-97.4}]},"mark":{"type":"rule","strokeWidth":2},"encoding":{"x":{"field":"t","type":"quantitative","scale":{"domain":[-1.0333,5.8667],"nice":false,"zero":false},"axis":null},"x2":{"field":"t2"},"y":{"field":"v","type":"quantitative","scale":{"domain":[-95,-68.5],"nice":false,"zero":false},"axis":null}}},
  {"data":{"values":[{"t":-0.18,"v":-71.3,"s":"Type-2"}]},"mark":{"type":"text","fontSize":17},"encoding":{"x":{"field":"t","type":"quantitative","scale":{"domain":[-1.0333,5.8667],"nice":false,"zero":false},"axis":null},"y":{"field":"v","type":"quantitative","scale":{"domain":[-95,-68.5],"nice":false,"zero":false},"axis":null},"text":{"field":"s"}}},
  {"data":{"values":[{"t":-0.1,"v":-76,"s":"-76mV"}]},"mark":{"type":"text","fontSize":16.5,"align":"right"},"encoding":{"x":{"field":"t","type":"quantitative","scale":{"domain":[-1.0333,5.8667],"nice":false,"zero":false},"axis":null},"y":{"field":"v","type":"quantitative","scale":{"domain":[-95,-68.5],"nice":false,"zero":false},"axis":null},"text":{"field":"s"}}},
  {"data":{"values":[{"t":-0.6,"v":-95.9,"s":"10 mV"}]},"mark":{"type":"text","fontSize":17,"angle":270},"encoding":{"x":{"field":"t","type":"quantitative","scale":{"domain":[-1.0333,5.8667],"nice":false,"zero":false},"axis":null},"y":{"field":"v","type":"quantitative","scale":{"domain":[-95,-68.5],"nice":false,"zero":false},"axis":null},"text":{"field":"s"}}},
  {"data":{"values":[{"t":3.29,"v":-100.5,"s":"1 min"}]},"mark":{"type":"text","fontSize":17},"encoding":{"x":{"field":"t","type":"quantitative","scale":{"domain":[-1.0333,5.8667],"nice":false,"zero":false},"axis":null},"y":{"field":"v","type":"quantitative","scale":{"domain":[-95,-68.5],"nice":false,"zero":false},"axis":null},"text":{"field":"s"}}}
]},
{"width":151,"height":106,"layer":[
  {"data":{"name":"d2"},"mark":{"type":"line","strokeWidth":0.9},"encoding":{"x":{"field":"mv","type":"quantitative","scale":{"domain":[-160,-20],"nice":false,"zero":false},"axis":{"values":[-140,-120,-100,-80,-60,-40,-20],"labelExpr":"datum.value % 40 === -20 ? '' + datum.value : ''","title":"Vm (mV)","titleX":88,"titleY":32,"titleBaseline":"middle","titleAlign":"center","tickSize":4}},"y":{"field":"pa","type":"quantitative","scale":{"domain":[-300,120],"nice":false,"zero":false},"axis":{"values":[-250,-200,-150,-100,-50,0,50,100],"labelExpr":"datum.value % 100 === 0 ? '' + datum.value : ''","title":"I(pA)","titleX":-37,"titleY":-9,"titleBaseline":"middle","titleAlign":"center","tickSize":4}},"detail":{"field":"c"}}},
  {"data":{"values":[{"mv":-65.4,"pa":-278,"pa2":-15}]},"mark":{"type":"rule","strokeWidth":1,"strokeDash":[1.2,2.2]},"encoding":{"x":{"field":"mv","type":"quantitative","scale":{"domain":[-160,-20],"nice":false,"zero":false},"axis":{"values":[-140,-120,-100,-80,-60,-40,-20],"labelExpr":"datum.value % 40 === -20 ? '' + datum.value : ''","title":"Vm (mV)","titleX":88,"titleY":32,"titleBaseline":"middle","titleAlign":"center","tickSize":4}},"y":{"field":"pa","type":"quantitative","scale":{"domain":[-300,120],"nice":false,"zero":false},"axis":{"values":[-250,-200,-150,-100,-50,0,50,100],"labelExpr":"datum.value % 100 === 0 ? '' + datum.value : ''","title":"I(pA)","titleX":-37,"titleY":-9,"titleBaseline":"middle","titleAlign":"center","tickSize":4}},"y2":{"field":"pa2"}}},
  {"data":{"values":[{"mv":-65.4,"pa":-287}]},"mark":{"type":"point","shape":"triangle-down","filled":true,"size":90,"opacity":1},"encoding":{"x":{"field":"mv","type":"quantitative","scale":{"domain":[-160,-20],"nice":false,"zero":false},"axis":{"values":[-140,-120,-100,-80,-60,-40,-20],"labelExpr":"datum.value % 40 === -20 ? '' + datum.value : ''","title":"Vm (mV)","titleX":88,"titleY":32,"titleBaseline":"middle","titleAlign":"center","tickSize":4}},"y":{"field":"pa","type":"quantitative","scale":{"domain":[-300,120],"nice":false,"zero":false},"axis":{"values":[-250,-200,-150,-100,-50,0,50,100],"labelExpr":"datum.value % 100 === 0 ? '' + datum.value : ''","title":"I(pA)","titleX":-37,"titleY":-9,"titleBaseline":"middle","titleAlign":"center","tickSize":4}}}},
  {"data":{"values":[{"mv":-119.5,"pa":55.4,"s":"High K"}]},"mark":{"type":"text","fontSize":17,"align":"left"},"encoding":{"x":{"field":"mv","type":"quantitative","scale":{"domain":[-160,-20],"nice":false,"zero":false},"axis":{"values":[-140,-120,-100,-80,-60,-40,-20],"labelExpr":"datum.value % 40 === -20 ? '' + datum.value : ''","title":"Vm (mV)","titleX":88,"titleY":32,"titleBaseline":"middle","titleAlign":"center","tickSize":4}},"y":{"field":"pa","type":"quantitative","scale":{"domain":[-300,120],"nice":false,"zero":false},"axis":{"values":[-250,-200,-150,-100,-50,0,50,100],"labelExpr":"datum.value % 100 === 0 ? '' + datum.value : ''","title":"I(pA)","titleX":-37,"titleY":-9,"titleBaseline":"middle","titleAlign":"center","tickSize":4}},"text":{"field":"s"}}},
  {"data":{"values":[{"mv":-71.9,"pa":81.6,"s":"+"}]},"mark":{"type":"text","fontSize":12,"align":"left"},"encoding":{"x":{"field":"mv","type":"quantitative","scale":{"domain":[-160,-20],"nice":false,"zero":false},"axis":{"values":[-140,-120,-100,-80,-60,-40,-20],"labelExpr":"datum.value % 40 === -20 ? '' + datum.value : ''","title":"Vm (mV)","titleX":88,"titleY":32,"titleBaseline":"middle","titleAlign":"center","tickSize":4}},"y":{"field":"pa","type":"quantitative","scale":{"domain":[-300,120],"nice":false,"zero":false},"axis":{"values":[-250,-200,-150,-100,-50,0,50,100],"labelExpr":"datum.value % 100 === 0 ? '' + datum.value : ''","title":"I(pA)","titleX":-37,"titleY":-9,"titleBaseline":"middle","titleAlign":"center","tickSize":4}},"text":{"field":"s"}}},
  {"data":{"values":[{"mv":-149.8,"pa":-105.8,"s":"Control"},{"mv":-121.1,"pa":-257.6,"s":"DAMGO"}]},"mark":{"type":"text","fontSize":14,"align":"left"},"encoding":{"x":{"field":"mv","type":"quantitative","scale":{"domain":[-160,-20],"nice":false,"zero":false},"axis":{"values":[-140,-120,-100,-80,-60,-40,-20],"labelExpr":"datum.value % 40 === -20 ? '' + datum.value : ''","title":"Vm (mV)","titleX":88,"titleY":32,"titleBaseline":"middle","titleAlign":"center","tickSize":4}},"y":{"field":"pa","type":"quantitative","scale":{"domain":[-300,120],"nice":false,"zero":false},"axis":{"values":[-250,-200,-150,-100,-50,0,50,100],"labelExpr":"datum.value % 100 === 0 ? '' + datum.value : ''","title":"I(pA)","titleX":-37,"titleY":-9,"titleBaseline":"middle","titleAlign":"center","tickSize":4}},"text":{"field":"s"}}}
]}
]
}
